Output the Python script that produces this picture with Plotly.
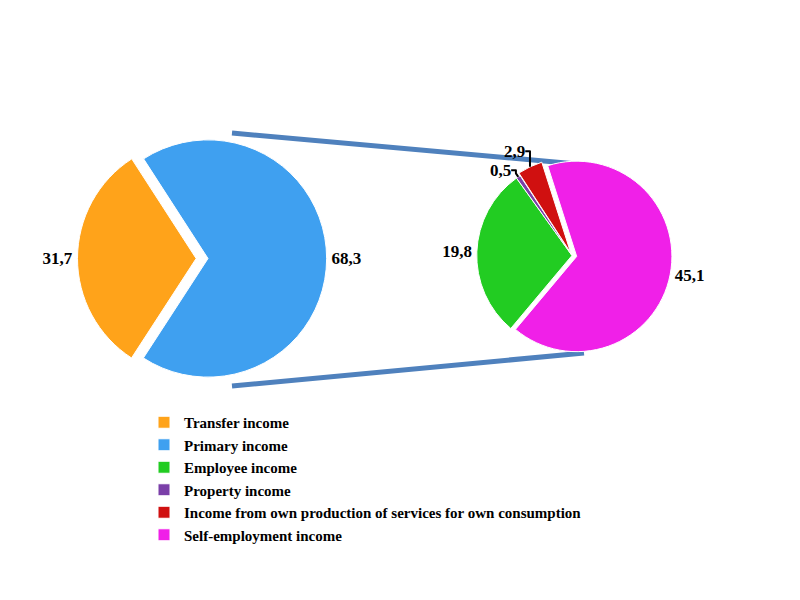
import plotly.graph_objects as go

main_labels = ["Transfer income", "Primary income"]
main_values = [31.7, 68.3]
main_colors = ["#FFA31A", "#3FA0F0"]

sub_labels = ["Employee income", "Property income",
              "Income from own production of services for own consumption",
              "Self-employment income"]
sub_values = [19.8, 0.5, 2.9, 45.1]
sub_colors = ["#22CC22", "#7A3FA8", "#D01010", "#F020E8"]

fmt = lambda v: f"<b>{v:.1f}</b>".replace(".", ",")
bold = lambda s: f"<b>{s}</b>"
font_lbl = dict(family="Liberation Serif", size=17, color="black")

fig = go.Figure()
fig.add_trace(go.Pie(
    labels=[bold(s) for s in main_labels], values=main_values, sort=False, direction="clockwise",
    rotation=213, pull=[0.1, 0], marker=dict(colors=main_colors, line=dict(color="white", width=1)),
    text=[fmt(v) for v in main_values], textinfo="text", textposition="outside",
    textfont=font_lbl, domain=dict(x=[0.085, 0.415], y=[0.365, 0.8]), hoverinfo="label+value"))
fig.add_trace(go.Pie(
    labels=[bold(s) for s in sub_labels], values=sub_values, sort=False, direction="clockwise",
    rotation=220, pull=[0, 0, 0.03, 0.05], marker=dict(colors=sub_colors, line=dict(color="white", width=1)),
    text=[fmt(v) for v in sub_values], textinfo="text", textposition="outside",
    textfont=font_lbl, domain=dict(x=[0.58, 0.83], y=[0.42, 0.755]), hoverinfo="label+value"))

line = dict(color="#4F81BD", width=5)
fig.add_shape(type="line", xref="paper", yref="paper", x0=0.28, y0=1-125/600, x1=0.725, y1=1-157/600, line=line, layer="below")
fig.add_shape(type="line", xref="paper", yref="paper", x0=0.28, y0=1-378/600, x1=0.72, y1=1-345/600, line=line, layer="below")

fig.update_layout(
    width=800, height=600, margin=dict(l=0, r=0, t=0, b=0),
    paper_bgcolor="white", plot_bgcolor="white",
    showlegend=True,
    legend=dict(x=0.17, y=1-398/600, xanchor="left", yanchor="top", traceorder="normal",
                font=dict(family="Liberation Serif", size=15, color="black"),
                itemwidth=30, tracegroupgap=0),
)
fig.write_html("out.html")
